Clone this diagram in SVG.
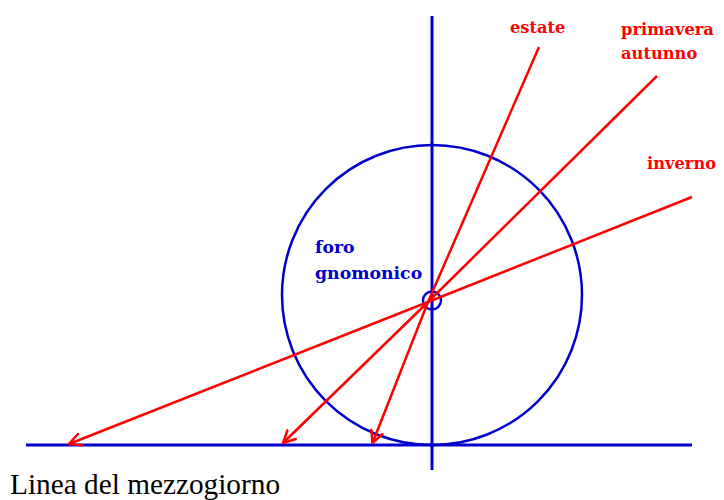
<svg xmlns="http://www.w3.org/2000/svg" width="724" height="500" viewBox="0 0 724 500">
<style>
.blue{stroke:#0000cc;stroke-width:3;fill:none}
.bluec{stroke:#0000cc;stroke-width:2.5;fill:none}
.ray{stroke:#ff0000;stroke-width:2.5;fill:none}
.rlab{font-family:"DejaVu Serif",serif;font-weight:bold;font-size:16.3px;fill:#ff0000}
.blab{font-family:"DejaVu Serif",serif;font-weight:bold;font-size:17.3px;fill:#0000cc}
.cap{font-family:"Liberation Serif",serif;font-size:29.3px;fill:#000}
</style>
<defs>
<marker id="arr" markerUnits="userSpaceOnUse" markerWidth="16" markerHeight="16" refX="13" refY="7" orient="auto" viewBox="0 0 16 14">
<path d="M1,1 L13,7 L1,13" fill="none" stroke="#ff0000" stroke-width="2.5" stroke-linecap="round" stroke-linejoin="round"/>
</marker>
</defs>
<rect width="724" height="500" fill="#fff"/>
<g id="axes">
<line class="blue" x1="26" y1="445" x2="692" y2="445"/>
<line class="blue" x1="432" y1="16" x2="432" y2="470"/>
</g>
<g id="circle"><circle class="bluec" cx="432" cy="295" r="150"/></g>
<g id="foro">
<circle class="bluec" cx="432" cy="300.5" r="9"/>
<text class="blab" x="315" y="253">foro</text>
<text class="blab" x="315" y="279">gnomonico</text>
</g>
<g id="connectors">
<line class="ray" x1="539" y1="47" x2="428" y2="302"/>
<line class="ray" x1="428" y1="302" x2="372.5" y2="443" marker-end="url(#arr)"/>
<line class="ray" x1="657" y1="76" x2="428" y2="302"/>
<line class="ray" x1="428" y1="302" x2="283" y2="443" marker-end="url(#arr)"/>
<line class="ray" x1="692" y1="197" x2="428" y2="302"/>
<line class="ray" x1="428" y1="302" x2="69" y2="444" marker-end="url(#arr)"/>
</g>
<g id="estate"><text class="rlab" x="510" y="33">estate</text></g>
<g id="primavera"><text class="rlab" x="621" y="35">primavera</text><text class="rlab" x="621" y="59">autunno</text></g>
<g id="inverno"><text class="rlab" x="647" y="169">inverno</text></g>
<g id="caption"><text class="cap" x="10" y="494">Linea del mezzogiorno</text></g>
</svg>
